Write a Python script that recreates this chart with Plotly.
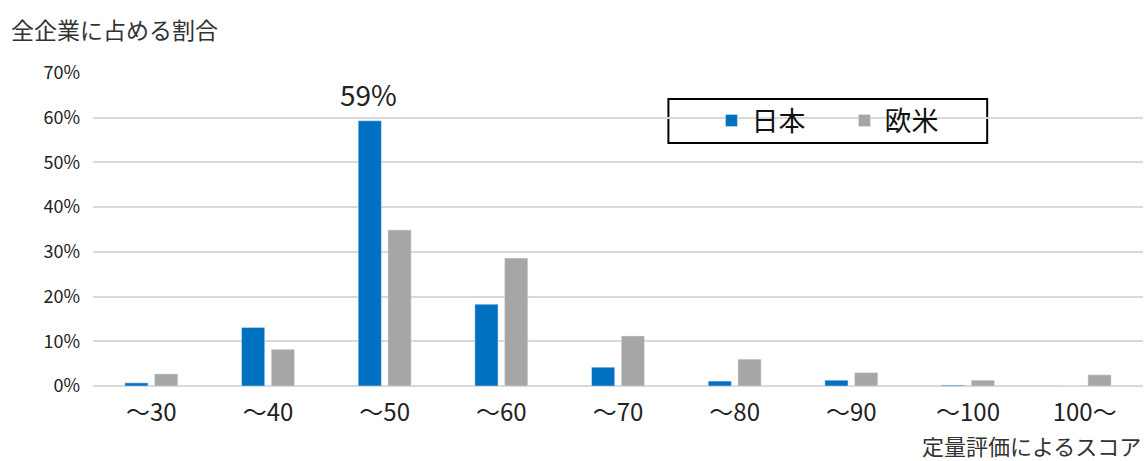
import plotly.graph_objects as go

categories = ["～30", "～40", "～50", "～60", "～70", "～80", "～90", "～100", "100～"]
japan = [0.007, 0.131, 0.593, 0.183, 0.042, 0.011, 0.013, 0.002, 0.0]
western = [0.027, 0.082, 0.349, 0.286, 0.112, 0.060, 0.030, 0.013, 0.025]
y_ticks = [0, 0.1, 0.2, 0.3, 0.4, 0.5, 0.6, 0.7]

FONT = "Noto Sans CJK JP"

fig = go.Figure()
fig.add_trace(go.Bar(x=categories, y=japan, name="日本", marker_color="#0070C0"))
fig.add_trace(go.Bar(x=categories, y=western, name="欧米", marker_color="#A6A6A6"))

fig.add_annotation(x=categories[2], y=japan[2], text="59%", showarrow=False,
                   yanchor="middle", yshift=27, xshift=-16,
                   font=dict(size=28, color="#222", family=FONT))
fig.add_annotation(xref="paper", yref="paper", x=-0.08, y=1.14, xanchor="left", yanchor="middle",
                   text="全企業に占める割合", showarrow=False,
                   font=dict(size=23, color="#333", family=FONT))
fig.add_annotation(xref="paper", yref="paper", x=1.0, y=-0.19, xanchor="right", yanchor="middle",
                   text="定量評価によるスコア", showarrow=False,
                   font=dict(size=22, color="#333", family=FONT))

# legend frame
fig.add_shape(type="rect", xref="paper", yref="paper",
              x0=0.548, x1=0.8516, y0=0.776, y1=0.917,
              line=dict(color="black", width=2), fillcolor="white", layer="below")

fig.update_layout(
    width=1144, height=461,
    margin=dict(l=93, r=1, t=73, b=75),
    paper_bgcolor="white", plot_bgcolor="white",
    barmode="group", bargap=0.49, bargroupgap=0.22,
    font=dict(family=FONT, color="#222"),
    showlegend=True,
    legend=dict(orientation="h", x=0.589, y=0.847, xanchor="left", yanchor="middle",
                borderwidth=0, bgcolor="rgba(0,0,0,0)",
                font=dict(size=27, color="#111", family=FONT),
                itemwidth=30, entrywidth=88),
    xaxis=dict(showgrid=False, tickfont=dict(size=24, color="#222"), ticks="",
               showline=False, ticklabelstandoff=10),
    yaxis=dict(range=[0, 0.7], tickvals=y_ticks, tickformat=".0%",
               showgrid=True, gridcolor="#D9D9D9", gridwidth=1.5,
               zeroline=True, zerolinecolor="#D9D9D9", zerolinewidth=2,
               tickfont=dict(size=18, color="#222"), ticks="", ticklabelstandoff=12),
)

fig.write_html("out.html")
